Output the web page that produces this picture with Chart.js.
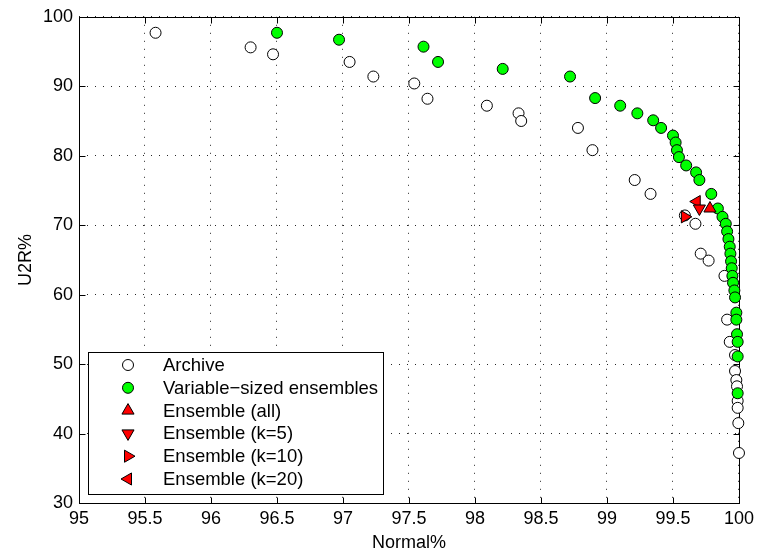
<!DOCTYPE html>
<html>
<head>
<meta charset="utf-8">
<script src="https://cdn.jsdelivr.net/npm/chart.js@4"></script>
<style>
  html, body { margin: 0; padding: 0; background: #fff; }
  #wrap { width: 759px; height: 554px; }
</style>
</head>
<body>
<div id="wrap"><canvas id="myChart" width="759" height="554"></canvas></div>
<script>
  const xTicks = [95, 95.5, 96, 96.5, 97, 97.5, 98, 98.5, 99, 99.5, 100]
  const yTicks = [30, 40, 50, 60, 70, 80, 90, 100]

  // Archive (white circles)
  const archiveNormal = [95.58, 96.30, 96.47, 97.05, 97.23, 97.54, 97.64, 98.09, 98.33, 98.35,
    98.78, 98.89, 99.21, 99.33, 99.59, 99.67, 99.71, 99.77, 99.89, 99.91,
    99.93, 99.97, 99.97, 99.98, 99.985, 99.99, 99.99, 99.995, 100]
  const archiveU2R = [97.7, 95.6, 94.6, 93.5, 91.4, 90.4, 88.2, 87.2, 86.1, 85.0,
    84.0, 80.8, 76.5, 74.5, 71.4, 70.2, 65.9, 64.9, 62.7, 56.4,
    53.2, 51.3, 49.0, 47.7, 46.8, 44.7, 43.7, 41.5, 37.2]

  // Variable-sized ensembles (green circles)
  const varNormal = [96.50, 96.97, 97.61, 97.72, 98.21, 98.72, 98.91, 99.10, 99.23, 99.35,
    99.41, 99.50, 99.52, 99.53, 99.545, 99.60, 99.675, 99.70, 99.79, 99.84,
    99.875, 99.90, 99.91, 99.92, 99.93, 99.935, 99.94, 99.945, 99.95, 99.955,
    99.965, 99.97, 99.98, 99.98, 99.985, 99.99, 99.99, 99.99]
  const varU2R = [97.7, 96.7, 95.7, 93.5, 92.5, 91.4, 88.3, 87.2, 86.1, 85.1,
    84.0, 82.9, 81.9, 80.8, 79.8, 78.6, 77.6, 76.5, 74.5, 72.4,
    71.2, 70.2, 69.1, 68.0, 66.9, 65.9, 64.8, 63.8, 62.7, 61.7,
    60.6, 59.6, 57.4, 56.4, 54.3, 53.2, 51.1, 45.8]

  // single ensembles (red triangles)
  const ensAll = [99.78, 72.4]
  const ensK5 = [99.70, 72.4]
  const ensK10 = [99.59, 71.2]
  const ensK20 = [99.68, 73.4]

  const FONT = '"Liberation Sans", Arial, Helvetica, sans-serif'

  function pts(xs, ys) {
    return xs.map((x, i) => ({ x: x, y: ys[i] }))
  }

  function drawMarker(c, style, rot, x, y, r, fill) {
    c.save()
    c.beginPath()
    if (style === 'circle') {
      c.arc(x, y, r, 0, Math.PI * 2)
    } else {
      let rad = rot * Math.PI / 180
      c.moveTo(x + Math.sin(rad) * r, y - Math.cos(rad) * r)
      rad += Math.PI * 2 / 3
      c.lineTo(x + Math.sin(rad) * r, y - Math.cos(rad) * r)
      rad += Math.PI * 2 / 3
      c.lineTo(x + Math.sin(rad) * r, y - Math.cos(rad) * r)
      c.closePath()
    }
    c.fillStyle = fill
    c.fill()
    c.lineWidth = 1
    c.strokeStyle = '#000'
    c.stroke()
    c.restore()
  }

  // box + inward ticks, matlab style
  const boxPlugin = {
    id: 'box',
    beforeDatasetsDraw(chart) {
      const c = chart.ctx
      const a = chart.chartArea
      const xs = chart.scales.x
      const ys = chart.scales.y
      const L = Math.round(a.left) + 0.5, R = Math.round(a.right) + 0.5
      const T = Math.round(a.top) + 0.5, B = Math.round(a.bottom) + 0.5
      c.save()
      c.strokeStyle = '#000'
      c.lineWidth = 1
      c.strokeRect(L, T, R - L, B - T)
      c.beginPath()
      xTicks.forEach(v => {
        const px = Math.round(xs.getPixelForValue(v)) + 0.5
        c.moveTo(px, B); c.lineTo(px, B - 6)
        c.moveTo(px, T); c.lineTo(px, T + 6)
      })
      yTicks.forEach(v => {
        const py = Math.round(ys.getPixelForValue(v)) + 0.5
        c.moveTo(L, py); c.lineTo(L + 6, py)
        c.moveTo(R, py); c.lineTo(R - 6, py)
      })
      c.stroke()
      c.restore()
    }
  }

  const legendPlugin = {
    id: 'boxLegend',
    afterDraw(chart) {
      const c = chart.ctx
      const left = 88.5, top = 352.5, w = 295, h = 142
      c.save()
      c.fillStyle = '#fff'
      c.fillRect(left, top, w, h)
      c.strokeStyle = '#000'
      c.lineWidth = 1
      c.strokeRect(left, top, w, h)
      c.font = '18.5px ' + FONT
      c.textBaseline = 'middle'
      c.textAlign = 'left'
      chart.data.datasets.forEach((ds, i) => {
        const y = 365 + i * 22.8
        drawMarker(c, ds.pointStyle, ds.rotation || 0, 128, y, ds.pointRadius, ds.backgroundColor)
        c.fillStyle = '#000'
        c.fillText(ds.label, 163, y + 1)
      })
      c.restore()
    }
  }

  const ctx = document.getElementById('myChart')

  new Chart(ctx, {
    type: 'scatter',
    data: {
      datasets: [{
        label: 'Archive',
        data: pts(archiveNormal, archiveU2R),
        pointStyle: 'circle',
        pointRadius: 5.5,
        backgroundColor: '#ffffff',
        borderColor: '#000',
        borderWidth: 1,
        order: 6,
        clip: false
      },
      {
        label: 'Variable\u2212sized ensembles',
        data: pts(varNormal, varU2R),
        pointStyle: 'circle',
        pointRadius: 5.5,
        backgroundColor: '#00ff00',
        borderColor: '#000',
        borderWidth: 1,
        order: 5,
        clip: false
      },
      {
        label: 'Ensemble (all)',
        data: [{ x: ensAll[0], y: ensAll[1] }],
        pointStyle: 'triangle',
        rotation: 0,
        pointRadius: 7,
        backgroundColor: '#ff0000',
        borderColor: '#000',
        borderWidth: 1,
        order: 1,
        clip: false
      },
      {
        label: 'Ensemble (k=5)',
        data: [{ x: ensK5[0], y: ensK5[1] }],
        pointStyle: 'triangle',
        rotation: 180,
        pointRadius: 7,
        backgroundColor: '#ff0000',
        borderColor: '#000',
        borderWidth: 1,
        order: 2,
        clip: false
      },
      {
        label: 'Ensemble (k=10)',
        data: [{ x: ensK10[0], y: ensK10[1] }],
        pointStyle: 'triangle',
        rotation: 90,
        pointRadius: 7,
        backgroundColor: '#ff0000',
        borderColor: '#000',
        borderWidth: 1,
        order: 3,
        clip: false
      },
      {
        label: 'Ensemble (k=20)',
        data: [{ x: ensK20[0], y: ensK20[1] }],
        pointStyle: 'triangle',
        rotation: 270,
        pointRadius: 7,
        backgroundColor: '#ff0000',
        borderColor: '#000',
        borderWidth: 1,
        order: 4,
        clip: false
      }]
    },
    options: {
      responsive: false,
      animation: false,
      layout: { padding: { left: 0, right: 18, top: 16, bottom: 0 } },
      plugins: {
        legend: { display: false },
        tooltip: { enabled: false }
      },
      scales: {
        x: {
          type: 'linear',
          min: 95,
          max: 100,
          afterBuildTicks: s => { s.ticks = xTicks.map(v => ({ value: v })) },
          afterFit: s => { s.height = 51 },
          ticks: {
            color: '#000',
            font: { family: FONT, size: 18 },
            padding: 5,
            maxRotation: 0,
            autoSkip: false,
            callback: v => String(v)
          },
          grid: { color: 'rgba(0,0,0,0.85)', lineWidth: 1, drawTicks: false },
          border: { display: false, dash: [1, 7] },
          title: {
            display: true,
            text: 'Normal%',
            color: '#000',
            font: { family: FONT, size: 18 },
            padding: { top: 0, bottom: 0 }
          }
        },
        y: {
          type: 'linear',
          min: 30,
          max: 100,
          afterBuildTicks: s => { s.ticks = yTicks.map(v => ({ value: v })) },
          afterFit: s => { s.width = 79 },
          ticks: {
            color: '#000',
            font: { family: FONT, size: 18 },
            padding: 6,
            autoSkip: false,
            callback: v => String(v)
          },
          grid: { color: 'rgba(0,0,0,0.85)', lineWidth: 1, drawTicks: false },
          border: { display: false, dash: [1, 7] },
          title: {
            display: true,
            text: 'U2R%',
            color: '#000',
            font: { family: FONT, size: 18 },
            padding: { top: 15, bottom: 0 }
          }
        }
      }
    },
    plugins: [boxPlugin, legendPlugin]
  })
</script>
</body>
</html>
